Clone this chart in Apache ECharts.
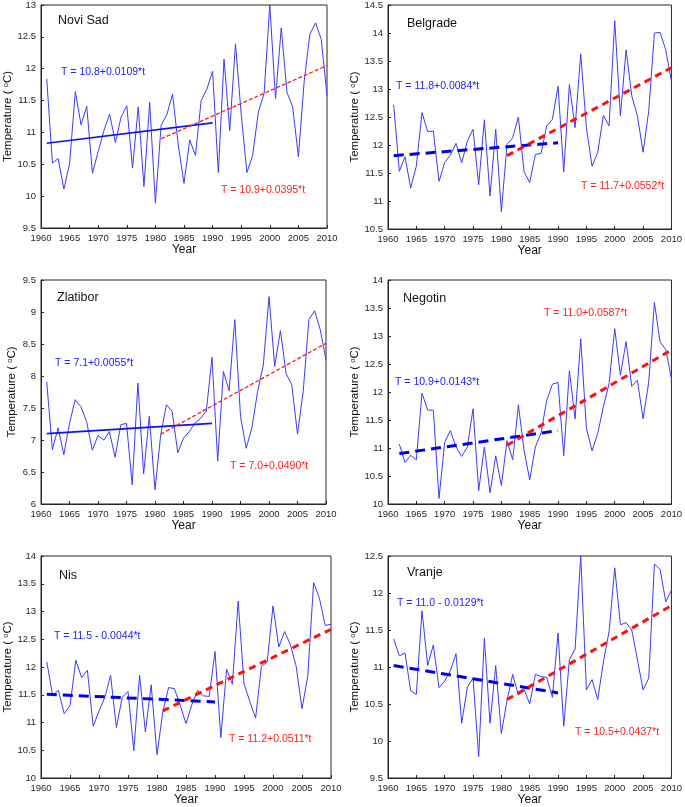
<!DOCTYPE html>
<html>
<head>
<meta charset="utf-8">
<script src="https://cdn.jsdelivr.net/npm/echarts@6/dist/echarts.min.js"></script>
<style>
html,body{margin:0;padding:0;background:#fff;}
#chart{width:685px;height:807px;}
</style>
</head>
<body>
<div id="chart"></div>
<script>
// ---------- DATA ----------
const years = [1961,1962,1963,1964,1965,1966,1967,1968,1969,1970,
  1971,1972,1973,1974,1975,1976,1977,1978,1979,1980,
  1981,1982,1983,1984,1985,1986,1987,1988,1989,1990,
  1991,1992,1993,1994,1995,1996,1997,1998,1999,2000,
  2001,2002,2003,2004,2005,2006,2007,2008,2009,2010];

const novisadTemp = [11.84,10.52,10.59,10.11,10.51,11.64,11.12,11.41,10.36,10.70,
  11.03,11.29,10.84,11.24,11.42,10.44,11.40,10.15,11.47,9.89,
  11.11,11.28,11.60,10.80,10.20,10.88,10.64,11.50,11.68,11.96,
  10.37,12.15,11.03,12.39,11.29,10.37,10.64,11.32,11.61,13.00,
  11.53,12.64,11.63,11.40,10.62,11.79,12.54,12.72,12.46,11.58];

const belgradeTemp = [12.72,11.53,11.79,11.23,11.62,12.58,12.24,12.25,11.35,11.69,
  11.82,12.03,11.68,12.07,12.28,11.29,12.45,11.09,12.28,10.81,
  12.01,12.13,12.50,11.52,11.33,11.83,11.85,12.34,12.46,13.05,
  11.52,13.08,12.31,13.63,12.31,11.62,11.87,12.53,12.34,14.22,
  12.52,13.70,12.88,12.52,11.87,12.61,14.00,14.01,13.70,13.14];

const zlatiborTemp = [7.91,6.85,7.19,6.77,7.26,7.63,7.52,7.29,6.84,7.07,
  7.00,7.13,6.73,7.24,7.26,6.30,7.89,6.47,7.37,6.22,
  7.08,7.55,7.45,6.80,7.03,7.13,7.26,7.34,7.45,8.29,
  6.67,8.07,7.77,8.88,7.37,6.87,7.19,7.76,8.17,9.24,
  8.15,8.71,8.04,7.86,7.09,7.76,8.88,9.02,8.72,8.25];

const negotinTemp = [null,11.07,10.74,10.87,10.79,11.98,11.68,11.67,10.10,11.10,
  11.31,11.02,10.85,11.02,11.70,10.24,11.02,10.20,10.86,10.33,
  11.13,10.79,11.77,10.96,10.43,11.02,11.27,11.85,12.14,12.17,
  10.86,12.38,11.52,12.95,11.35,10.95,11.26,11.74,12.15,13.13,
  12.30,12.90,12.10,12.21,11.52,12.18,13.60,12.89,12.76,12.24];

const nisTemp = [12.09,11.49,11.58,11.16,11.30,12.12,11.81,11.94,10.93,11.21,
  11.45,11.85,10.91,11.45,11.56,10.49,11.85,10.83,11.68,10.42,
  11.19,11.63,11.61,11.31,10.98,11.32,11.58,11.48,11.47,12.28,
  10.73,11.96,11.69,13.19,11.70,11.38,11.08,12.01,12.09,13.10,
  12.36,12.64,12.40,12.01,11.25,11.84,13.52,13.24,12.75,12.77];

const vranjeTemp = [11.38,11.15,11.19,10.68,10.63,11.76,11.02,11.30,10.72,10.81,
  10.95,11.18,10.24,10.73,10.85,9.79,11.39,10.24,11.02,10.10,
  10.55,10.90,10.62,10.70,10.50,10.90,10.87,10.86,10.59,11.46,
  10.20,11.10,11.24,12.50,10.69,10.83,10.56,11.07,11.48,12.34,
  11.57,11.60,11.50,11.10,10.69,10.85,12.39,12.32,11.88,12.04];

// trend line endpoints [year, value]
const novisadEarly = [[1961,10.83],[1990,11.15]];
const novisadLate  = [[1981,10.90],[2010,12.05]];
const belgradeEarly = [[1961,11.81],[1990,12.04]];
const belgradeLate  = [[1981,11.81],[2010,13.38]];
const zlatiborEarly = [[1961,7.10],[1990,7.26]];
const zlatiborLate  = [[1981,7.09],[2010,8.51]];
const negotinEarly = [[1962,10.90],[1990,11.31]];
const negotinLate  = [[1981,11.05],[2010,12.75]];
const nisEarly = [[1961,11.51],[1990,11.37]];
const nisLate  = [[1981,11.21],[2010,12.68]];
const vranjeEarly = [[1961,11.02],[1990,10.65]];
const vranjeLate  = [[1981,10.56],[2010,11.83]];

const stationNames = ['Novi Sad','Belgrade','Zlatibor','Negotin','Nis','Vranje'];
const eqEarly = ['T = 10.8+0.0109*t','T = 11.8+0.0084*t','T = 7.1+0.0055*t','T = 10.9+0.0143*t','T = 11.5 - 0.0044*t','T = 11.0 - 0.0129*t'];
const eqLate  = ['T = 10.9+0.0395*t','T = 11.7+0.0552*t','T = 7.0+0.0490*t','T = 11.0+0.0587*t','T = 11.2+0.0511*t','T = 10.5+0.0437*t'];
const yMins = [9.5,10.5,6,10,10,9.5];
const yMaxs = [13,14.5,9.5,14,14,12.5];

// ---------- LAYOUT ----------
const series = [novisadTemp,belgradeTemp,zlatiborTemp,negotinTemp,nisTemp,vranjeTemp];
const earlies = [novisadEarly,belgradeEarly,zlatiborEarly,negotinEarly,nisEarly,vranjeEarly];
const lates = [novisadLate,belgradeLate,zlatiborLate,negotinLate,nisLate,vranjeLate];
const grids = [
  {left:41,top:4,width:286,height:224},
  {left:388,top:3,width:287,height:226},
  {left:41,top:280,width:285,height:224},
  {left:388,top:280,width:287,height:224},
  {left:41,top:556,width:290,height:224},
  {left:388,top:556,width:287,height:224}
];
const thinStyle = [true,false,true,false,false,false];
const titlePos = [[58,21],[407,24],[57,298],[403,299],[59,576],[407,573]];
const eqEarlyPos = [[61,73],[396,87],[55,364],[395,383],[54,637],[397,604]];
const eqLatePos = [[221,191],[581,187],[230,467],[544,314],[229,740],[575,733]];

const FONT = '"Liberation Sans", Arial, Helvetica, sans-serif';
const AX = '#262626';

const option = {
  animation:false,
  backgroundColor:'#fff',
  grid:[], xAxis:[], yAxis:[], series:[], graphic:[]
};

for (let i=0;i<6;i++){
  option.grid.push(Object.assign({show:true,borderColor:AX,borderWidth:1,backgroundColor:'#fff'}, grids[i]));
  option.xAxis.push({
    type:'value', gridIndex:i, min:1960, max:2010, interval:5,
    name:'Year', nameLocation:'middle', nameGap:16,
    nameTextStyle:{fontFamily:FONT,fontSize:12,color:'#111'},
    axisLine:{show:true,lineStyle:{color:AX,width:1}},
    axisTick:{show:true,inside:true,length:3,lineStyle:{color:AX}},
    axisLabel:{fontFamily:FONT,fontSize:9.5,color:AX,margin:5,showMaxLabel:true,showMinLabel:true,
      formatter:v=>String(Math.round(v))},
    splitLine:{show:false}
  });
  option.yAxis.push({
    type:'value', gridIndex:i, min:yMins[i], max:yMaxs[i], interval:0.5,
    name:'Temperature ( {s|o}C)', nameLocation:'middle', nameGap:23, nameRotate:90,
    nameTextStyle:{fontFamily:FONT,fontSize:11.5,color:'#111',
      rich:{s:{fontFamily:FONT,fontSize:7.5,color:'#111',verticalAlign:'top',lineHeight:7}}},
    axisLine:{show:true,lineStyle:{color:AX,width:1}},
    axisTick:{show:true,inside:true,length:3,lineStyle:{color:AX}},
    axisLabel:{fontFamily:FONT,fontSize:9.5,color:AX,margin:5,formatter:v=>String(+v.toFixed(1))},
    splitLine:{show:false}
  });
  option.series.push({
    type:'line', xAxisIndex:i, yAxisIndex:i, symbol:'none',
    data: years.map((y,k)=>[y, series[i][k]]),
    lineStyle:{color:'#3b3bff',width:1}, z:2
  });
  const thin = thinStyle[i];
  option.series.push({
    type:'line', xAxisIndex:i, yAxisIndex:i, symbol:'none', data:earlies[i],
    lineStyle: thin ? {color:'#1010f0',width:1.6,type:'solid'}
                    : {color:'#0000ee',width:3,type:[10,6]}, z:3
  });
  option.series.push({
    type:'line', xAxisIndex:i, yAxisIndex:i, symbol:'none', data:lates[i],
    lineStyle: thin ? {color:'#ff1a1a',width:1.3,type:[4,2]}
                    : {color:'#ff1010',width:3,type:[7,5]}, z:4
  });
  option.graphic.push({type:'text', left:titlePos[i][0], top:titlePos[i][1]-7,
    style:{text:stationNames[i], fill:'#111', font:'12.5px '+FONT}});
  option.graphic.push({type:'text', left:eqEarlyPos[i][0], top:eqEarlyPos[i][1]-6,
    style:{text:eqEarly[i], fill:'#2020ff', font:'10.5px '+FONT}});
  option.graphic.push({type:'text', left:eqLatePos[i][0], top:eqLatePos[i][1]-6,
    style:{text:eqLate[i], fill:'#ff2020', font:'10.5px '+FONT}});
}

const chart = echarts.init(document.getElementById('chart'), null, {renderer:'canvas'});
chart.setOption(option);
</script>
</body>
</html>
